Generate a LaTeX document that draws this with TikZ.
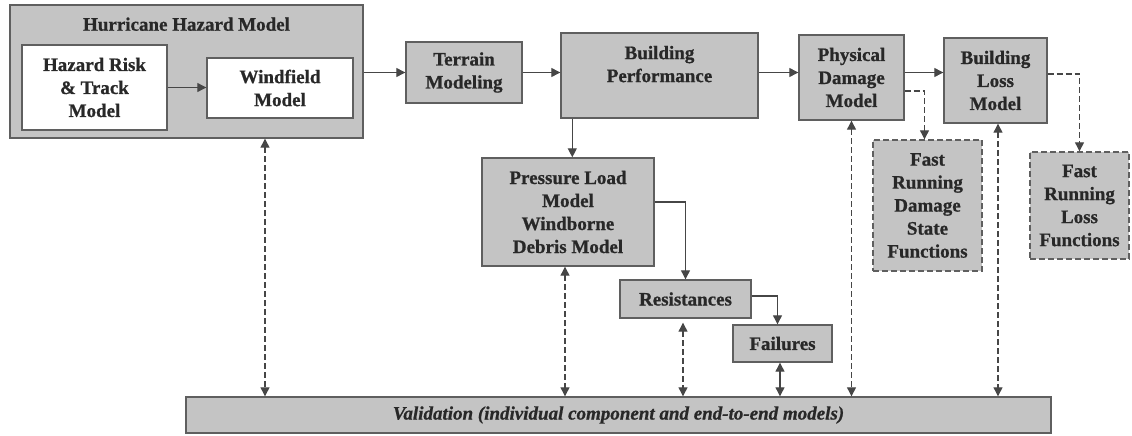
\documentclass[tikz,border=0pt]{standalone}
\usepackage{fontspec}
\setmainfont{Liberation Serif}[BoldFeatures={FakeBold=0.8},BoldItalicFeatures={FakeBold=0.8}]
\usetikzlibrary{arrows.meta,calc}
\definecolor{boxfill}{RGB}{196,196,196}
\definecolor{boxline}{RGB}{95,95,95}
\definecolor{txt}{RGB}{40,40,40}
\definecolor{conn}{RGB}{70,70,70}
\begin{document}
\begin{tikzpicture}[x=1pt,y=-1pt,
  box/.style={draw=boxline, fill=boxfill, line width=1.4pt, inner sep=0pt, align=center,
    text=txt, font=\fontsize{19}{23}\selectfont\bfseries},
  wbox/.style={box, fill=white},
  dbox/.style={box, dash pattern=on 6pt off 3pt},
  arr/.style={draw=conn, line width=1.2pt, -{Triangle[length=9pt,width=9pt]}},
  darr/.style={arr, dash pattern=on 6pt off 3pt},
  vlink/.style={draw=conn, line width=1.2pt, dash pattern=on 6pt off 3pt,
    {Triangle[length=9pt,width=9pt]}-{Triangle[length=9pt,width=9pt]}},
  slink/.style={draw=conn, line width=1.2pt,
    {Triangle[length=9pt,width=9pt]}-{Triangle[length=9pt,width=9pt]}}
]
\useasboundingbox[fill=white] (0,0) rectangle (1132,436);

\node[box, minimum width=353pt, minimum height=133pt,
  label={[anchor=north, inner sep=0pt, yshift=-13pt, text=txt,
  font=\fontsize{19}{23}\selectfont\bfseries]north:Hurricane Hazard Model}] (hh) at (186.5,71.5) {};
\node[wbox, minimum width=145pt, minimum height=85pt] (hr) at (94.5,87.5) {Hazard Risk\\\& Track\\Model};
\node[wbox, minimum width=146pt, minimum height=60pt] (wf) at (280,88) {Windfield\\Model};
\node[box, minimum width=116pt, minimum height=61pt] (ter) at (464,72.5) {Terrain\\Modeling};
\node[box, minimum width=197pt, minimum height=85pt] (bp) at (659.5,75.5) {Building\\Performance\\\mbox{}};
\node[box, minimum width=105pt, minimum height=85pt] (pd) at (851.5,77.5) {Physical\\Damage\\Model};
\node[box, minimum width=103pt, minimum height=85pt] (bl) at (995.5,80.5) {Building\\Loss\\Model};
\node[box, minimum width=172pt, minimum height=108pt] (pl) at (568,212) {Pressure Load\\Model\\Windborne\\Debris Model};
\node[box, minimum width=131pt, minimum height=38pt] (res) at (685.5,299) {Resistances};
\node[box, minimum width=99pt, minimum height=37pt] (fail) at (782.5,343.5) {Failures};
\node[dbox, minimum width=109pt, minimum height=131pt] (fd) at (927.5,205.5) {Fast\\Running\\Damage\\State\\Functions};
\node[dbox, minimum width=99pt, minimum height=107pt] (fl) at (1079.5,205.5) {Fast\\Running\\Loss\\Functions};
\node[box, minimum width=865pt, minimum height=36pt, font=\fontsize{19}{23}\selectfont\bfseries\itshape] (val) at (618.5,415)
  {Validation (individual component and end-to-end models)};

% main chain
\draw[arr] (hr.east) -- (hr.east -| wf.west);
\draw[arr] (hh.east |- ter.east) -- (ter.west);
\draw[arr] (ter.east) -- (ter.east -| bp.west);
\draw[arr] (ter.east -| bp.east) -- (ter.east -| pd.west);
\draw[arr] (ter.east -| pd.east) -- (ter.east -| bl.west);
\draw[arr] ([xshift=12pt]bp.south west) -- ([xshift=12pt]bp.south west |- pl.north);
\draw[arr] ([yshift=10pt]pl.east) -| (res.north);
\draw[arr] ([yshift=3pt]res.east) -| ([xshift=-5pt]fail.north);
\draw[darr] ([yshift=-13.5pt]pd.east) -| ([xshift=-3pt]fd.north);
\draw[darr] ([yshift=6.5pt]bl.east) -| (fl.north);

% validation links
\draw[vlink] (hh.south -| 265,0) -- (val.north -| 265,0);
\draw[vlink] ([xshift=-3pt]pl.south) -- ([xshift=-3pt]pl.south |- val.north);
\draw[vlink] ([xshift=-2.5pt,yshift=-4pt]res.south) -- ([xshift=-2.5pt]res.south |- val.north);
\draw[slink] ([xshift=-2.5pt]fail.south) -- ([xshift=-2.5pt]fail.south |- val.north);
\draw[vlink] (pd.south) -- (pd.south |- val.north);
\draw[vlink] ([xshift=2.5pt]bl.south) -- ([xshift=2.5pt]bl.south |- val.north);
\end{tikzpicture}
\end{document}
